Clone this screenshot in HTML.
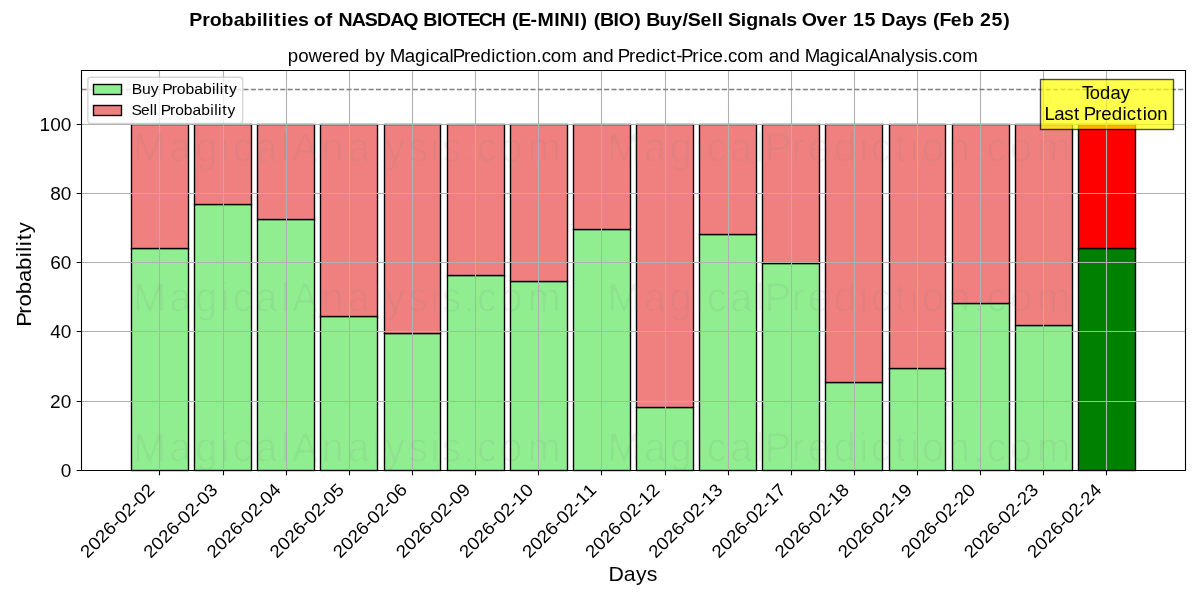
<!DOCTYPE html>
<html><head><meta charset="utf-8"><title>Probabilities of NASDAQ BIOTECH (E-MINI) (BIO) Buy/Sell Signals Over 15 Days</title>
<style>html,body{margin:0;padding:0;background:#fff;overflow:hidden}svg{display:block;will-change:transform}text{font-family:"Liberation Sans",sans-serif}</style></head>
<body><svg width="1200" height="600" viewBox="0 0 1200 600">
<rect x="0" y="0" width="1200" height="600" fill="#fff"/>
<g stroke="#000" stroke-width="1.39">
<rect x="131.5" y="248.5" width="57" height="222" fill="#90ee90"/>
<rect x="194.5" y="204.5" width="57" height="266" fill="#90ee90"/>
<rect x="257.5" y="219.5" width="57" height="251" fill="#90ee90"/>
<rect x="320.5" y="316.5" width="57" height="154" fill="#90ee90"/>
<rect x="384.5" y="333.5" width="56" height="137" fill="#90ee90"/>
<rect x="447.5" y="275.5" width="57" height="195" fill="#90ee90"/>
<rect x="510.5" y="281.5" width="57" height="189" fill="#90ee90"/>
<rect x="573.5" y="229.5" width="57" height="241" fill="#90ee90"/>
<rect x="636.5" y="407.5" width="57" height="63" fill="#90ee90"/>
<rect x="699.5" y="234.5" width="57" height="236" fill="#90ee90"/>
<rect x="762.5" y="263.5" width="57" height="207" fill="#90ee90"/>
<rect x="825.5" y="382.5" width="57" height="88" fill="#90ee90"/>
<rect x="889.5" y="368.5" width="56" height="102" fill="#90ee90"/>
<rect x="952.5" y="303.5" width="57" height="167" fill="#90ee90"/>
<rect x="1015.5" y="325.5" width="57" height="145" fill="#90ee90"/>
<rect x="1078.5" y="248.5" width="57" height="222" fill="#008000"/>
<rect x="131.5" y="124.5" width="57" height="124" fill="#f08080"/>
<rect x="194.5" y="124.5" width="57" height="80" fill="#f08080"/>
<rect x="257.5" y="124.5" width="57" height="95" fill="#f08080"/>
<rect x="320.5" y="124.5" width="57" height="192" fill="#f08080"/>
<rect x="384.5" y="124.5" width="56" height="209" fill="#f08080"/>
<rect x="447.5" y="124.5" width="57" height="151" fill="#f08080"/>
<rect x="510.5" y="124.5" width="57" height="157" fill="#f08080"/>
<rect x="573.5" y="124.5" width="57" height="105" fill="#f08080"/>
<rect x="636.5" y="124.5" width="57" height="283" fill="#f08080"/>
<rect x="699.5" y="124.5" width="57" height="110" fill="#f08080"/>
<rect x="762.5" y="124.5" width="57" height="139" fill="#f08080"/>
<rect x="825.5" y="124.5" width="57" height="258" fill="#f08080"/>
<rect x="889.5" y="124.5" width="56" height="244" fill="#f08080"/>
<rect x="952.5" y="124.5" width="57" height="179" fill="#f08080"/>
<rect x="1015.5" y="124.5" width="57" height="201" fill="#f08080"/>
<rect x="1078.5" y="124.5" width="57" height="124" fill="#ff0000"/>
</g>
<path d="M159.5 70.5V470.5M223.5 70.5V470.5M286.5 70.5V470.5M349.5 70.5V470.5M412.5 70.5V470.5M475.5 70.5V470.5M538.5 70.5V470.5M601.5 70.5V470.5M665.5 70.5V470.5M728.5 70.5V470.5M791.5 70.5V470.5M854.5 70.5V470.5M917.5 70.5V470.5M980.5 70.5V470.5M1043.5 70.5V470.5M1106.5 70.5V470.5M81.5 470.5H1185.5M81.5 401.5H1185.5M81.5 331.5H1185.5M81.5 262.5H1185.5M81.5 193.5H1185.5M81.5 124.5H1185.5" stroke="#b0b0b0" stroke-width="1.11" stroke-linecap="square" fill="none"/>
<path d="M81.5 89.5H1185.5" stroke="#808080" stroke-width="1.39" stroke-dasharray="5.14 2.22" fill="none"/>
<path d="M159.5 470.5v4.86M223.5 470.5v4.86M286.5 470.5v4.86M349.5 470.5v4.86M412.5 470.5v4.86M475.5 470.5v4.86M538.5 470.5v4.86M601.5 470.5v4.86M665.5 470.5v4.86M728.5 470.5v4.86M791.5 470.5v4.86M854.5 470.5v4.86M917.5 470.5v4.86M980.5 470.5v4.86M1043.5 470.5v4.86M1106.5 470.5v4.86M81.5 470.5h-4.86M81.5 401.5h-4.86M81.5 331.5h-4.86M81.5 262.5h-4.86M81.5 193.5h-4.86M81.5 124.5h-4.86" stroke="#000" stroke-width="1.11" fill="none"/>
<path d="M81.5 470.5V70.5H1185.5V470.5Z" stroke="#000" stroke-width="1.11" stroke-linecap="square" stroke-linejoin="miter" fill="none"/>
<text x="0.03 10.04 19.93 29.94 39.65 45.36 55.25 65.08 70.79 80.68" y="0" transform="translate(87.61 559.03) rotate(-45) scale(1.0618 1)" font-size="17.83" fill="#000">2026-02-02</text>
<text x="0.03 10.04 19.93 29.94 39.65 45.36 55.25 65.08 70.79 80.68" y="0" transform="translate(150.74 559.03) rotate(-45) scale(1.0618 1)" font-size="17.83" fill="#000">2026-02-03</text>
<text x="0.03 10.04 19.93 29.94 39.65 45.36 55.25 65.08 70.79 80.68" y="0" transform="translate(213.95 558.94) rotate(-45) scale(1.0618 1)" font-size="17.83" fill="#000">2026-02-04</text>
<text x="0.03 10.04 19.93 29.94 39.65 45.36 55.25 65.08 70.79 80.68" y="0" transform="translate(277.08 558.94) rotate(-45) scale(1.0618 1)" font-size="17.83" fill="#000">2026-02-05</text>
<text x="0.03 10.04 19.93 29.94 39.65 45.36 55.25 65.08 70.79 80.68" y="0" transform="translate(340.21 558.94) rotate(-45) scale(1.0618 1)" font-size="17.83" fill="#000">2026-02-06</text>
<text x="0.03 10.04 19.93 29.94 39.65 45.36 55.25 65.08 70.79 80.68" y="0" transform="translate(403.33 558.94) rotate(-45) scale(1.0618 1)" font-size="17.83" fill="#000">2026-02-09</text>
<text x="0.03 10.04 19.93 29.94 39.65 45.36 55.25 65.08 70.79 80.79" y="0" transform="translate(466.37 559.03) rotate(-45) scale(1.0618 1)" font-size="17.83" fill="#000">2026-02-10</text>
<text x="0.03 10.04 19.93 29.94 39.65 45.36 55.25 65.08 70.79 80.79" y="0" transform="translate(529.41 559.12) rotate(-45) scale(1.0618 1)" font-size="17.83" fill="#000">2026-02-11</text>
<text x="0.03 10.04 19.93 29.94 39.65 45.36 55.25 65.08 70.79 80.79" y="0" transform="translate(592.54 559.12) rotate(-45) scale(1.0618 1)" font-size="17.83" fill="#000">2026-02-12</text>
<text x="0.03 10.04 19.93 29.94 39.65 45.36 55.25 65.08 70.79 80.79" y="0" transform="translate(655.67 559.12) rotate(-45) scale(1.0618 1)" font-size="17.83" fill="#000">2026-02-13</text>
<text x="0.03 10.04 19.93 29.94 39.65 45.36 55.25 65.08 70.79 80.79" y="0" transform="translate(718.88 559.03) rotate(-45) scale(1.0618 1)" font-size="17.83" fill="#000">2026-02-17</text>
<text x="0.03 10.04 19.93 29.94 39.65 45.36 55.25 65.08 70.79 80.79" y="0" transform="translate(782.01 559.03) rotate(-45) scale(1.0618 1)" font-size="17.83" fill="#000">2026-02-18</text>
<text x="0.03 10.04 19.93 29.94 39.65 45.36 55.25 65.08 70.79 80.79" y="0" transform="translate(845.14 559.03) rotate(-45) scale(1.0618 1)" font-size="17.83" fill="#000">2026-02-19</text>
<text x="0.03 10.04 19.93 29.94 39.65 45.36 55.25 65.08 70.79 80.79" y="0" transform="translate(908.26 559.03) rotate(-45) scale(1.0618 1)" font-size="17.83" fill="#000">2026-02-20</text>
<text x="0.03 10.04 19.93 29.94 39.65 45.36 55.25 65.08 70.79 80.79" y="0" transform="translate(971.3 559.12) rotate(-45) scale(1.0618 1)" font-size="17.83" fill="#000">2026-02-23</text>
<text x="0.03 10.04 19.93 29.94 39.65 45.36 55.25 65.08 70.79 80.79" y="0" transform="translate(1034.52 559.03) rotate(-45) scale(1.0618 1)" font-size="17.83" fill="#000">2026-02-24</text>
<text x="-0.2 14.56 26.55 37.11" y="0" transform="translate(608.76 581) scale(1.0237 1)" font-size="20.81" fill="#000">Days</text>
<text x="0" y="0" transform="translate(60.68 476.85) scale(1.0691 1)" font-size="17.83" fill="#000">0</text>
<text x="0 9.94" y="0" transform="translate(50.06 407.67) scale(1.0691 1)" font-size="17.83" fill="#000">20</text>
<text x="0 9.82" y="0" transform="translate(50.18 338.49) scale(1.0691 1)" font-size="17.83" fill="#000">40</text>
<text x="0 9.82" y="0" transform="translate(50.18 269.31) scale(1.0691 1)" font-size="17.83" fill="#000">60</text>
<text x="0 9.82" y="0" transform="translate(50.18 200.13) scale(1.0691 1)" font-size="17.83" fill="#000">80</text>
<text x="0 9.94 19.76" y="0" transform="translate(39.56 130.95) scale(1.0691 1)" font-size="17.83" fill="#000">100</text>
<text x="-1.44 10.84 17.62 29.08 40.49 51.83 63.66 68.82 73.98 79.6 86.26" y="0" transform="translate(30.5 325.21) rotate(-90) scale(1.0660 1)" font-size="20.81" fill="#000">Probability</text>
<rect x="1040.5" y="79.5" width="133" height="50" fill="#ffff00" stroke="#000" stroke-width="1.39" opacity="0.7"/>
<text x="-0.5 7.16 17.17 27.19 37.36" y="0" transform="translate(1082.41 99.15) scale(1.0296 1)" font-size="17.83" fill="#000">Today</text>
<text x="-0.52 8.76 18.2 27.51 33.13 36.95 47.83 53.68 63.63 73.8 77.9 87.35 93.14 97.24 107.09" y="0" transform="translate(1045.16 119.95) scale(1.0467 1)" font-size="17.83" fill="#000">Last Prediction</text>
<text x="0.09 9.93 19.75 32.62 42.77 48.61 58.55 68.53 73.58 83.76 92.99 97.38 111.58 121.42 131.58 135.68 144.39 154.37 157.41 168.28 174.12 184.06 194.22 198.32 207.75 213.55 217.64 227.48 237.47 242.34 251.04 261.12 276.36 281.24 291.07 301.1 311.08 314.89 325.76 331.6 341.54 351.7 355.8 365.24 370.7 375.26 386.13 392.62 396.72 405.45 415.35 420.23 428.93 439 454.24 459.12 468.95 478.98 488.96 493.36 507.56 517.4 527.56 531.66 540.37 550.34 554.02 565.47 575.32 585.3 589.73 598.6 607.49 611.36 620.08 624.95 633.65 643.73" y="0" transform="translate(287.76 62) scale(1.0477 1)" font-size="17.83" fill="#000">powered by MagicalPrediction.com and Predict-Price.com and MagicalAnalysis.com</text>
<rect x="87.85" y="77.28" width="154.88" height="46.05" rx="2.78" fill="#fff" stroke="#ccc" stroke-width="1.39" opacity="0.8"/>
<rect x="93.5" y="84.5" width="28" height="10" fill="#90ee90" stroke="#000" stroke-width="1.39"/>
<text x="-0.46 9.12 17.52 25.17 28.28 37.18 42.03 50.21 58.45 66.75 75.27 78.93 82.59 86.59 91.44" y="0" transform="translate(132.29 93.83) scale(1.0586 1)" font-size="14.86" fill="#000">Buy Probability</text>
<rect x="93.5" y="105.5" width="28" height="10" fill="#f08080" stroke="#000" stroke-width="1.39"/>
<text x="-0.77 8.24 16.57 20.25 23.78 26.93 35.87 40.76 48.98 57.27 65.61 74.17 77.85 81.53 85.55 90.45" y="0" transform="translate(132.29 114.78) scale(1.0526 1)" font-size="14.86" fill="#000">Sell Probability</text>
<text x="-0.38 11.33 18.34 29.04 40.04 50 60.96 66.09 71.22 76.88 83.63 88.83 98.56 108.17 113.01 124.06 130.5 135.49 147.66 159.48 170.76 182.86 194.68 208.31 212.73 225.24 229.99 243.2 253.07 263.33 275.28 288.17 293.75 299.32 310.63 316.85 332.1 337.25 350.33 356.07 362.57 368.14 373.83 386.33 391.09 405.06 411.56 415.98 428.1 438.84 449.05 453.86 465.47 475.77 480.9 486.06 490.66 502.2 507.19 517.98 528.9 539 543.56 553.17 557.76 571.22 581.33 591.78 599.19 604.59 615.07 625.4 630.34 643.17 652.68 662.16 671.76 677.34 683.42 693.66 703.83 714.83 720.23 730.82 741.48" y="0" transform="translate(189.75 26) scale(1.0972 1)" font-size="17.83" font-weight="bold" fill="#000">Probabilities of NASDAQ BIOTECH (E-MINI) (BIO) Buy/Sell Signals Over 15 Days (Feb 25)</text>
<filter id="thin" x="0" y="0" width="1200" height="600" filterUnits="userSpaceOnUse"><feGaussianBlur stdDeviation="0.8"/><feComponentTransfer><feFuncA type="linear" slope="4" intercept="-2.2"/></feComponentTransfer></filter>
<g opacity="0.12"><g filter="url(#thin)">
<text x="1.4 39.31 66.4 93.12 105.25 129.32 155.61 167.18 198.14 225.21 251.49 264.53 288.7 311.9 323.4 346.31 360.55 384.6 413.19" y="0" transform="translate(131.62 161.5) scale(0.9582 1)" font-size="41.67" fill="#808080">MagicalAnalysis.com</text>
<text x="1.27 38.94 65.84 92.42 104.41 128.3 154.45 164.12 192.19 208.79 235.76 262.34 274.34 299.26 314.92 327.09 353.85 380.16 394.26 418.13 446.48" y="0" transform="translate(606.06 161.5) scale(0.9652 1)" font-size="41.67" fill="#808080">MagicalPrediction.com</text>
<text x="1.4 39.31 66.4 93.12 105.25 129.32 155.61 167.18 198.14 225.21 251.49 264.53 288.7 311.9 323.4 346.31 360.55 384.6 413.19" y="0" transform="translate(131.62 311.5) scale(0.9582 1)" font-size="41.67" fill="#808080">MagicalAnalysis.com</text>
<text x="1.27 38.94 65.84 92.42 104.41 128.3 154.45 164.12 192.19 208.79 235.76 262.34 274.34 299.26 314.92 327.09 353.85 380.16 394.26 418.13 446.48" y="0" transform="translate(606.06 311.5) scale(0.9652 1)" font-size="41.67" fill="#808080">MagicalPrediction.com</text>
<text x="1.4 39.31 66.4 93.12 105.25 129.32 155.61 167.18 198.14 225.21 251.49 264.53 288.7 311.9 323.4 346.31 360.55 384.6 413.19" y="0" transform="translate(131.62 461.5) scale(0.9582 1)" font-size="41.67" fill="#808080">MagicalAnalysis.com</text>
<text x="1.27 38.94 65.84 92.42 104.41 128.3 154.45 164.12 192.19 208.79 235.76 262.34 274.34 299.26 314.92 327.09 353.85 380.16 394.26 418.13 446.48" y="0" transform="translate(606.06 461.5) scale(0.9652 1)" font-size="41.67" fill="#808080">MagicalPrediction.com</text>
</g>
</g>
</svg></body></html>
